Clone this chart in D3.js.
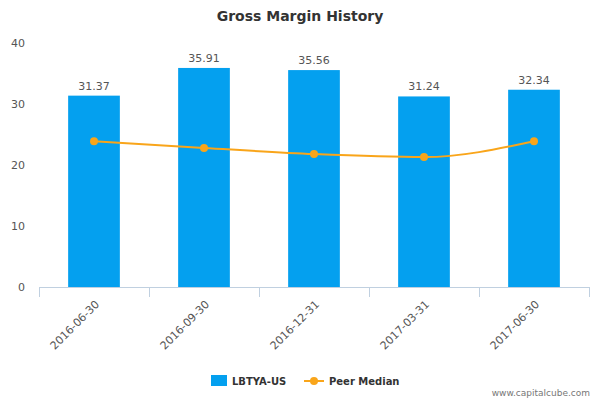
<!DOCTYPE html>
<html><head><meta charset="utf-8">
<script src="https://cdn.jsdelivr.net/npm/d3@7"></script>
<style>body{margin:0;background:#fff;font-family:"DejaVu Sans",sans-serif;}</style>
</head><body><svg id="chart"></svg>
<script>
const categories = ["2016-06-30", "2016-09-30", "2016-12-31", "2017-03-31", "2017-06-30"];
const companyValues = [31.37, 35.91, 35.56, 31.24, 32.34];
const peerMedian = [23.9, 22.8, 21.8, 21.3, 23.9];
const yTicks = [0, 10, 20, 30, 40];

const width = 600, height = 400;
const margin = { top: 43, right: 11, bottom: 113, left: 39 };
const innerW = width - margin.left - margin.right;
const innerH = height - margin.top - margin.bottom;

const svg = d3.select("#chart").attr("width", width).attr("height", height);
const chart = svg.append("g").attr("transform", `translate(${margin.left},${margin.top})`);

const x = d3.scaleBand().domain(categories).range([0, innerW]).paddingInner(0.53).paddingOuter(0.265);
const y = d3.scaleLinear().domain([0, 40]).range([innerH, 0]);

svg.append("text").attr("x", width / 2).attr("y", 21).attr("text-anchor", "middle")
  .style("font-size", "14px").style("font-weight", "bold").attr("fill", "#333").text("Gross Margin History");

// y labels
chart.selectAll(".ytick").data(yTicks).join("text")
  .attr("x", -14).attr("y", d => y(d) + 4).attr("text-anchor", "end")
  .style("font-size", "11px").attr("fill", "#555").text(d => d);

// bars
chart.selectAll(".bar").data(companyValues).join("rect")
  .attr("x", (d, i) => x(categories[i])).attr("width", x.bandwidth())
  .attr("y", d => y(d)).attr("height", d => innerH - y(d)).attr("fill", "#04a0ef");

chart.selectAll(".blabel").data(companyValues).join("text")
  .attr("x", (d, i) => x(categories[i]) + x.bandwidth() / 2).attr("y", d => y(d) - 6)
  .attr("text-anchor", "middle").style("font-size", "11px").attr("fill", "#555")
  .text(d => d.toFixed(2));

// x axis
const step = x.step();
chart.append("line").attr("x1", 0).attr("x2", innerW).attr("y1", innerH + 0.5).attr("y2", innerH + 0.5)
  .attr("stroke", "#c0d0e0");
d3.range(categories.length + 1).forEach(i => {
  chart.append("line").attr("x1", i * step + 0.5).attr("x2", i * step + 0.5)
    .attr("y1", innerH).attr("y2", innerH + 10).attr("stroke", "#c0d0e0");
});
chart.selectAll(".xlab").data(categories).join("text")
  .attr("transform", d => `translate(${x(d) + x.bandwidth() / 2 + 6},${innerH + 18}) rotate(-45)`)
  .attr("text-anchor", "end").style("font-size", "11px").attr("fill", "#555").text(d => d);

// peer median line
const cx = (d, i) => x(categories[i]) + x.bandwidth() / 2;
const line = d3.line().x(cx).y(d => y(d)).curve(d3.curveMonotoneX);
chart.append("path").datum(peerMedian).attr("d", line).attr("fill", "none")
  .attr("stroke", "#f9a51a").attr("stroke-width", 2);
chart.selectAll(".pt").data(peerMedian).join("circle")
  .attr("cx", cx).attr("cy", d => y(d)).attr("r", 4).attr("fill", "#f9a51a");

// legend
const lg = svg.append("g").attr("transform", "translate(211,375)");
lg.append("rect").attr("width", 16).attr("height", 11).attr("fill", "#04a0ef");
lg.append("text").attr("x", 21).attr("y", 10).style("font-size", "10px").style("font-weight", "bold")
  .attr("fill", "#333").text("LBTYA-US");
lg.append("line").attr("x1", 93).attr("x2", 113).attr("y1", 6).attr("y2", 6).attr("stroke", "#f9a51a").attr("stroke-width", 2);
lg.append("circle").attr("cx", 103).attr("cy", 6).attr("r", 4).attr("fill", "#f9a51a");
lg.append("text").attr("x", 118).attr("y", 10).style("font-size", "10px").style("font-weight", "bold")
  .attr("fill", "#333").text("Peer Median");

svg.append("text").attr("x", 590).attr("y", 396).attr("text-anchor", "end")
  .style("font-size", "9px").attr("fill", "#777").text("www.capitalcube.com");
</script></body></html>
